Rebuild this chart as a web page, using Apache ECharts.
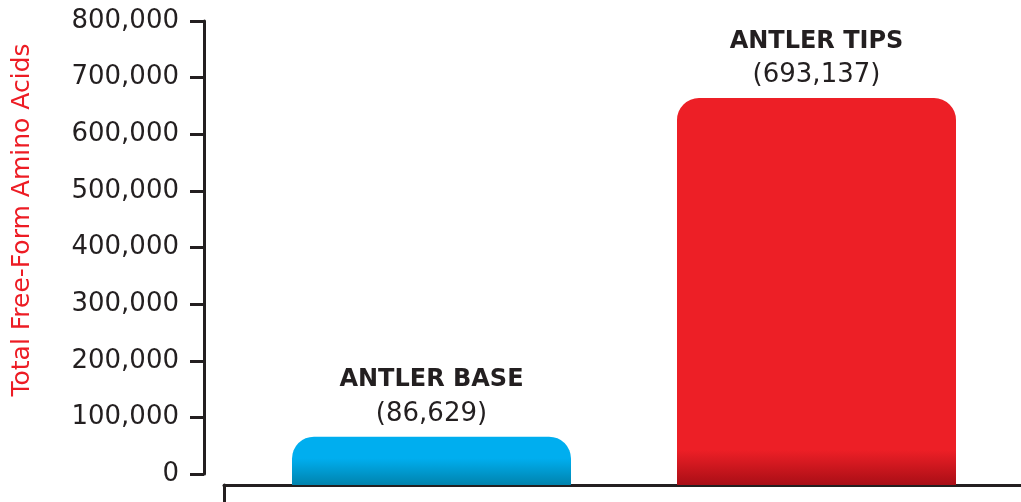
<!DOCTYPE html>
<html>
<head>
<meta charset="utf-8">
<script src="https://cdn.jsdelivr.net/npm/echarts@6/dist/echarts.min.js"></script>
<style>html,body{margin:0;padding:0;background:#fff;}#c{width:1021px;height:502px;}</style>
</head>
<body>
<div id="c"></div>
<script>
var categories = ['ANTLER BASE', 'ANTLER TIPS'];
var values = [86629, 693137];
var valueLabels = ['(86,629)', '(693,137)'];
var yTicks = [0, 100000, 200000, 300000, 400000, 500000, 600000, 700000, 800000];
var yTitle = 'Total Free-Form Amino Acids';

var ink = '#231f20';
var font = 'DejaVu Sans';
var barColors = [
  {top: '#00aeef', mid: '#00aeef', bottom: '#0083ad', stop: 0.45},
  {top: '#ed1f26', mid: '#ed1f26', bottom: '#a90e16', stop: 0.91}
];

var chart = echarts.init(document.getElementById('c'));
chart.setOption({
  animation: false,
  backgroundColor: '#fff',
  grid: [
    {left: 204, right: 0, top: 21, bottom: 28},
    {left: 239, right: 12, top: 21, bottom: 17},
    {left: 224, right: 0, top: 485, bottom: 0}
  ],
  xAxis: [
    {gridIndex: 0, type: 'value', show: false},
    {gridIndex: 1, type: 'category', data: categories, show: false},
    {gridIndex: 2, type: 'value', position: 'top', min: 0, max: 1,
      axisLine: {show: true, onZero: false, lineStyle: {color: ink, width: 3}},
      axisTick: {show: false}, axisLabel: {show: false}, splitLine: {show: false}}
  ],
  yAxis: [
    {gridIndex: 0, type: 'value', min: yTicks[0], max: yTicks[yTicks.length - 1], interval: yTicks[1] - yTicks[0],
      axisLine: {show: true, lineStyle: {color: ink, width: 3}},
      axisTick: {show: true, length: 14, lineStyle: {color: ink, width: 3}},
      splitLine: {show: false},
      axisLabel: {color: ink, fontFamily: font, fontSize: 26, margin: 25,
        formatter: function (v) { return v.toLocaleString('en-US'); }}},
    {gridIndex: 1, type: 'value', min: 0, max: 831048, show: false},
    {gridIndex: 2, type: 'value', min: 0, max: 1,
      axisLine: {show: true, onZero: false, lineStyle: {color: ink, width: 3}},
      axisTick: {show: false}, axisLabel: {show: false}, splitLine: {show: false}}
  ],
  graphic: [{
    type: 'text', rotation: Math.PI / 2,
    style: {text: yTitle, fill: '#ed1c24', font: '25px "' + font + '"', textAlign: 'center', textVerticalAlign: 'middle', x: 0, y: 0},
    position: [22, 220]
  }],
  series: [{
    type: 'bar', xAxisIndex: 1, yAxisIndex: 1, barWidth: 279,
    data: values.map(function (v, i) {
      var c = barColors[i];
      return {
        value: v,
        itemStyle: {
          borderRadius: [22, 22, 0, 0],
          color: new echarts.graphic.LinearGradient(0, 0, 0, 1, [
            {offset: 0, color: c.top}, {offset: c.stop, color: c.mid}, {offset: 1, color: c.bottom}
          ])
        },
        label: {
          show: true, position: 'top', distance: 6,
          formatter: '{b|' + categories[i] + '}\n{v|' + valueLabels[i] + '}',
          rich: {
            b: {fontFamily: font, fontWeight: 'bold', fontSize: 24, color: ink, lineHeight: 35},
            v: {fontFamily: font, fontSize: 26, color: ink, lineHeight: 33}
          }
        }
      };
    })
  }]
});
</script>
</body>
</html>
